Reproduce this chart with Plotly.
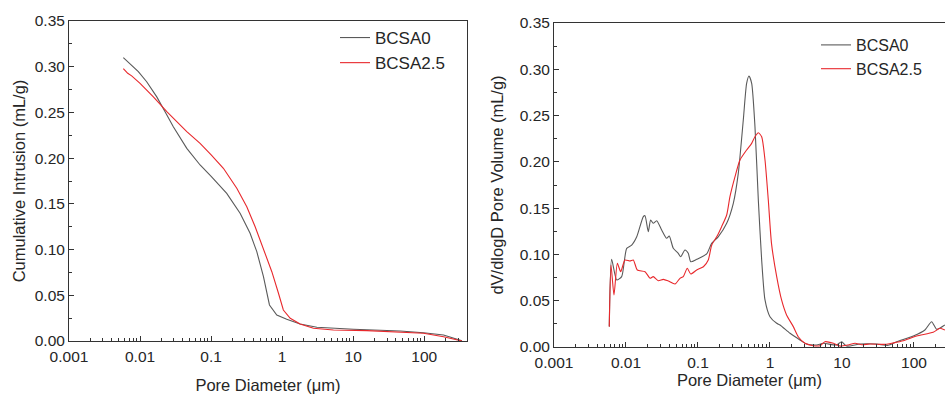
import plotly.graph_objects as go
import math

# ---------------- data ----------------
# Left panel: cumulative intrusion (mL/g) vs pore diameter (um)
cum_b0_x = [0.00582, 0.00671, 0.00946, 0.0124, 0.0172, 0.0225, 0.0294, 0.0455, 0.070, 0.101,
            0.166, 0.256, 0.354, 0.440, 0.546, 0.663, 0.841, 1.16, 1.79, 3.08, 10.1, 45.9,
            97.8, 187, 340]
cum_b0_y = [0.310, 0.3055, 0.2946, 0.2836, 0.267, 0.2508, 0.2344, 0.2107, 0.1925, 0.1797,
            0.1615, 0.1397, 0.1178, 0.0977, 0.0703, 0.0394, 0.0284, 0.0237, 0.0186, 0.0150,
            0.0128, 0.0109, 0.0091, 0.0066, 0.0003]

cum_b25_x = [0.00582, 0.00600, 0.00640, 0.00671, 0.00762, 0.0100, 0.0154, 0.0238, 0.0455,
             0.070, 0.101, 0.149, 0.230, 0.318, 0.417, 0.546, 0.716, 0.888, 1.04, 1.30, 1.79,
             2.76, 5.28, 15.6, 97.8, 187, 340]
cum_b25_y = [0.298, 0.297, 0.294, 0.2928, 0.290, 0.2818, 0.267, 0.2508, 0.229,
             0.2162, 0.2034, 0.1889, 0.167, 0.1469, 0.125, 0.1014, 0.0758, 0.0522, 0.0339,
             0.0248, 0.0186, 0.0139, 0.0120, 0.0113, 0.0084, 0.0047, 0.0000]

# Right panel: dV/dlogD pore volume (mL/g) vs pore diameter (um)
dv_b0_x = [0.00586, 0.00632, 0.00743, 0.00871, 0.01023, 0.0120, 0.0141, 0.0174, 0.01837,
           0.0204, 0.0220, 0.0239, 0.0267, 0.0313, 0.0367, 0.0399, 0.0454, 0.0532, 0.0575,
           0.0659, 0.0733, 0.0793, 0.0960, 0.132, 0.155, 0.191, 0.2505, 0.309, 0.363, 0.426,
           0.474, 0.511, 0.557, 0.619, 0.689, 0.767, 0.853, 1.0, 1.24, 1.38, 1.90, 2.61,
           3.23, 4.45, 5.5, 8.4, 9.9, 11.6, 17.8, 30.3, 44, 57.5, 98, 142, 176, 207, 269]
dv_b0_y = [0.022, 0.0947, 0.0724, 0.076, 0.1066, 0.110, 0.119, 0.1408, 0.1418,
           0.1246, 0.1372, 0.1336, 0.1364, 0.1264, 0.1174, 0.1199, 0.1066, 0.1012, 0.0975,
           0.1048, 0.1012, 0.0921, 0.0947, 0.1005, 0.112, 0.119, 0.1336, 0.155, 0.1876, 0.2452,
           0.2848, 0.2927, 0.2848, 0.238, 0.1588, 0.094, 0.0508, 0.0327, 0.0256, 0.0238, 0.0148,
           0.0076, 0.0032, 0.0022, 0.0040, 0.0022, 0.0057, 0.0010, 0.0032, 0.0032, 0.0018,
           0.0057, 0.0119, 0.0184, 0.0273, 0.0191, 0.0238]

dv_b25_x = [0.00586, 0.00619, 0.00681, 0.00759, 0.00844, 0.00968, 0.01137, 0.01264, 0.01436,
            0.0184, 0.0216, 0.0239, 0.0281, 0.033, 0.0387, 0.048, 0.0562, 0.0625, 0.071,
            0.0793, 0.096, 0.119, 0.139, 0.155, 0.182, 0.213, 0.2505, 0.278, 0.327, 0.383,
            0.474, 0.557, 0.619, 0.689, 0.767, 0.853, 0.948, 1.05, 1.24, 1.45, 1.70, 2.11,
            2.47, 3.06, 4.0, 4.95, 5.8, 7.6, 9.4, 12.2, 15.2, 18.8, 24.5, 41.7, 49, 71, 109,
            185, 230, 269]
dv_b25_y = [0.022, 0.0886, 0.0562, 0.0904, 0.0813, 0.094, 0.0929, 0.094, 0.0832,
            0.0813, 0.0742, 0.076, 0.0716, 0.0731, 0.0713, 0.068, 0.0742, 0.076, 0.085,
            0.0789, 0.0832, 0.0867, 0.094, 0.110, 0.119, 0.130, 0.1426, 0.1624, 0.184, 0.202,
            0.2128, 0.220, 0.2272, 0.2315, 0.2272, 0.202, 0.1588, 0.112, 0.076, 0.0508, 0.0346,
            0.022, 0.0111, 0.0040, 0.0014, 0.0014, 0.0057, 0.0040, 0.0010, 0.0022, 0.0040,
            0.0025, 0.0032, 0.0029, 0.0040, 0.0068, 0.0119, 0.0159, 0.0202, 0.0184]

series_names = ["BCSA0", "BCSA2.5"]
x_tickvals = [0.001, 0.01, 0.1, 1, 10, 100]
x_ticktext = ["0.001", "0.01", "0.1", "1", "10", "100"]

# ---------------- styling ----------------
GRAY = "#5a5a5a"
RED = "#e8282c"
AX = "#333333"
TXT = "#262626"
FONT = "Liberation Sans, Arial, sans-serif"
W, H = 945, 394

fig = go.Figure()
fig.add_trace(go.Scatter(x=cum_b0_x, y=cum_b0_y, mode="lines", name=series_names[0],
                         line=dict(color=GRAY, width=1.1), xaxis="x", yaxis="y", legend="legend"))
fig.add_trace(go.Scatter(x=cum_b25_x, y=cum_b25_y, mode="lines", name=series_names[1],
                         line=dict(color=RED, width=1.1), xaxis="x", yaxis="y", legend="legend"))
fig.add_trace(go.Scatter(x=dv_b0_x, y=dv_b0_y, mode="lines", name=series_names[0],
                         line=dict(color=GRAY, width=1.1, shape="spline", smoothing=0.6),
                         xaxis="x2", yaxis="y2", legend="legend2"))
fig.add_trace(go.Scatter(x=dv_b25_x, y=dv_b25_y, mode="lines", name=series_names[1],
                         line=dict(color=RED, width=1.1, shape="spline", smoothing=0.6),
                         xaxis="x2", yaxis="y2", legend="legend2"))

def xax(domain, rng, anchor, title, standoff):
    return dict(type="log", domain=domain, range=rng, anchor=anchor,
                tickvals=x_tickvals, ticktext=x_ticktext,
                ticks="inside", ticklen=5, tickwidth=1, tickcolor=AX,
                minor=dict(ticks="inside", ticklen=3, tickwidth=1, tickcolor=AX, dtick="D1", showgrid=False),
                showline=True, linecolor=AX, linewidth=1, mirror=True,
                showgrid=False, zeroline=False, ticklabelstandoff=1,
                tickfont=dict(size=15.5, color=TXT, family=FONT),
                title=dict(text=title, font=dict(size=16.5, color=TXT, family=FONT), standoff=standoff))

def yax(domain, anchor, title, mirror, standoff):
    return dict(domain=domain, range=[0, 0.35], anchor=anchor,
                dtick=0.05, tick0=0, tickformat=".2f",
                ticks="inside", ticklen=5, tickwidth=1, tickcolor=AX,
                minor=dict(ticks="inside", ticklen=3, tickwidth=1, tickcolor=AX, dtick=0.025, showgrid=False),
                showline=True, linecolor=AX, linewidth=1, mirror=mirror,
                showgrid=False, zeroline=False,
                tickfont=dict(size=15.5, color=TXT, family=FONT),
                title=dict(text=title, font=dict(size=16.5, color=TXT, family=FONT), standoff=standoff))

fig.update_layout(
    width=W, height=H,
    margin=dict(l=0, r=0, t=0, b=0),
    paper_bgcolor="white", plot_bgcolor="white",
    font=dict(family=FONT, color=TXT),
    xaxis=xax([69 / W, 467 / W], [math.log10(0.001), math.log10(400)], "y", "Pore Diameter (\u03bcm)", 19),
    yaxis=yax([1 - 341 / H, 1 - 21 / H], "x", "Cumulative Intrusion (mL/g)", True, 4),
    xaxis2=xax([554 / W, 1.0], [math.log10(0.001), math.log10(270)], "y2", "Pore Diameter (\u03bcm)", 3),
    yaxis2=yax([1 - 347 / H, 1 - 23 / H], "x2", "dV/dlogD Pore Volume (mL/g)", False, 11),
    legend=dict(x=335 / W, y=1 - 20 / H, xanchor="left", yanchor="top",
                bgcolor="rgba(0,0,0,0)", font=dict(size=17, color=TXT, family=FONT),
                tracegroupgap=0, itemwidth=30),
    legend2=dict(x=816 / W, y=1 - 28 / H, xanchor="left", yanchor="top",
                 bgcolor="rgba(0,0,0,0)", font=dict(size=16, color=TXT, family=FONT),
                 tracegroupgap=0, itemwidth=30),
    showlegend=True,
)
fig.update_xaxes(automargin=False)
fig.update_yaxes(automargin=False)

fig.write_html("out.html", config={"displayModeBar": False},
               post_script="document.body.style.margin='0';document.body.style.overflow='hidden';")
